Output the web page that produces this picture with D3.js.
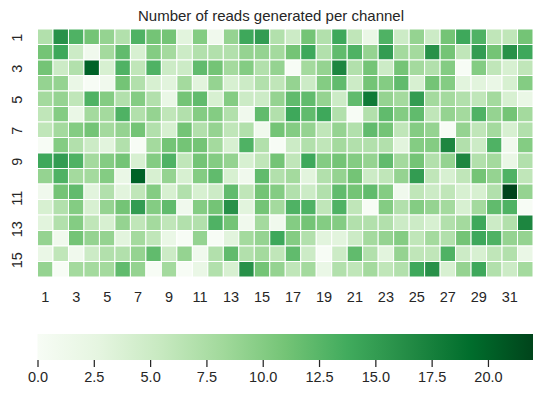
<!DOCTYPE html>
<html>
<head>
<meta charset="utf-8">
<script src="https://cdn.jsdelivr.net/npm/d3@7"></script>
<style>
  html, body { margin: 0; padding: 0; background: #fff; }
  svg { display: block; }
  text { font-family: "Liberation Sans", Arial, sans-serif; fill: #262626; }
  .axis path { display: none; }
  .axis text { font-size: 14.5px; }
  .bar-axis line { stroke: #262626; stroke-width: 1.25px; }
  .chart-title { font-size: 15px; text-anchor: middle; }
</style>
</head>
<body>
<svg id="chart"></svg>
<script>
// tick labels
const columns = d3.range(1, 33);
const rows = d3.range(1, 17);
const columnTicks = [1, 3, 5, 7, 9, 11, 13, 15, 17, 19, 21, 23, 25, 27, 29, 31];
const rowTicks = [1, 3, 5, 7, 9, 11, 13, 15];
const barTicks = [0, 2.5, 5, 7.5, 10, 12.5, 15, 17.5, 20];

// reads per channel, one list per row
const reads = [
  [7,16,13,11,9,7,13,11,11,3,10,1,9,14,15,7,5,11,7,14,6,2,13,5,9,5,11,14,13,6,6,11],
  [11,14,5,1,8,12,4,10,8,5,7,7,7,9,9,8,11,14,7,12,13,9,15,8,8,16,11,6,15,11,16,14],
  [11,5,7,20,4,13,6,13,5,5,12,11,8,10,7,9,0,8,9,17,7,11,5,11,8,7,10,0,10,6,4,6],
  [9,9,2,0,1,11,7,4,3,8,3,9,4,5,7,6,9,5,10,12,5,11,10,12,4,11,10,3,3,2,4,10],
  [8,9,6,13,10,7,10,7,2,11,12,4,10,5,5,9,12,12,9,5,12,18,9,8,15,8,8,7,6,8,4,2],
  [6,10,2,8,8,13,7,9,6,7,10,10,7,1,12,7,14,12,14,7,0,7,12,10,12,6,9,8,13,9,11,8],
  [6,8,10,11,8,9,11,7,4,11,7,9,6,7,1,11,10,9,6,9,7,12,11,6,10,9,0,9,6,8,4,7],
  [0,10,7,5,3,7,0,8,11,11,11,8,4,13,7,0,5,7,6,8,7,7,7,3,10,10,17,7,5,13,1,10],
  [14,15,13,8,10,11,4,10,13,6,11,10,9,4,6,11,6,14,10,11,10,9,12,8,11,7,9,17,7,8,2,7],
  [9,13,8,8,10,2,20,4,9,4,10,12,4,1,12,7,8,3,7,9,11,5,6,9,15,6,4,6,11,9,13,6],
  [1,11,12,3,7,3,6,10,4,7,4,5,12,6,11,10,7,5,7,12,11,12,10,1,6,5,6,4,4,7,22,9],
  [4,7,10,4,9,11,15,10,12,1,10,11,16,3,11,8,13,13,6,13,6,0,10,7,10,9,8,4,8,12,13,0],
  [3,7,10,6,4,9,6,8,6,7,7,13,11,1,8,1,10,11,10,10,7,7,7,5,5,4,7,8,14,5,7,17],
  [9,1,11,9,9,3,8,6,2,0,9,0,3,8,9,14,10,7,3,3,5,8,9,10,6,8,7,11,14,13,9,9],
  [2,6,1,5,7,7,9,12,5,9,1,7,12,7,8,6,12,5,0,5,12,7,3,9,6,6,13,5,4,6,7,2],
  [9,0,8,8,8,12,9,0,8,0,2,7,4,16,11,9,6,8,2,7,6,8,6,7,14,16,4,9,14,7,5,8]
];

const width = 543, height = 395;
const plot = {left: 37.5, right: 533, top: 29, bottom: 277};
const bar = {top: 334, bottom: 360};
const maxReads = 22;

const svg = d3.select('#chart').attr('width', width).attr('height', height);

const x = d3.scaleBand().domain(columns).range([plot.left, plot.right]);
const y = d3.scaleBand().domain(rows).range([plot.top, plot.bottom]);

// same stops as the matplotlib Greens map
const color = d3.scaleLinear()
    .domain(d3.range(9).map(i => i * maxReads / 8))
    .range(d3.schemeGreens[9]);

// heatmap cells
svg.append('g').selectAll('g')
    .data(reads)
  .join('g')
    .selectAll('rect')
    .data((d, i) => d.map((v, j) => ({row: rows[i], col: columns[j], value: v})))
  .join('rect')
    .attr('x', d => x(d.col))
    .attr('y', d => y(d.row))
    .attr('width', x.bandwidth())
    .attr('height', y.bandwidth())
    .attr('fill', d => color(d.value))
    .attr('stroke', '#fff')
    .attr('stroke-width', 1);

svg.append('text')
    .attr('class', 'chart-title')
    .attr('x', 271)
    .attr('y', 21)
    .text('Number of reads generated per channel');

// x labels under the cells, no tick marks
svg.append('g')
    .attr('class', 'axis')
    .attr('transform', `translate(0,${plot.bottom + 12})`)
    .call(d3.axisBottom(x).tickValues(columnTicks).tickSize(0).tickPadding(3));

// y labels are turned sideways and sit below the row centre, two digit ones more so
svg.append('g')
    .attr('class', 'axis')
    .attr('transform', 'translate(17,0)')
    .call(d3.axisLeft(y).tickValues(rowTicks).tickSize(0).tickPadding(0))
    .selectAll('text')
    .attr('x', 0)
    .attr('y', 0)
    .attr('dy', '.36em')
    .attr('text-anchor', 'middle')
    .attr('transform', d => `translate(0,${d < 10 ? 1 : 6.5}) rotate(-90)`);

// colorbar, painted as one gradient so the steps do not show seams
const barScale = d3.scaleLinear().domain([0, maxReads]).range([plot.left, plot.right]);
const gradient = svg.append('defs').append('linearGradient').attr('id', 'greens');
gradient.selectAll('stop')
    .data(color.domain())
  .join('stop')
    .attr('offset', d => d / maxReads)
    .attr('stop-color', d => color(d));

svg.append('rect')
    .attr('x', barScale(0))
    .attr('y', bar.top)
    .attr('width', barScale(maxReads) - barScale(0))
    .attr('height', bar.bottom - bar.top)
    .attr('fill', 'url(#greens)');

svg.append('g')
    .attr('class', 'axis bar-axis')
    .attr('transform', `translate(0,${bar.bottom})`)
    .call(d3.axisBottom(barScale).tickValues(barTicks).tickFormat(d3.format('.1f')).tickSize(7).tickPadding(5));
</script>
</body>
</html>
